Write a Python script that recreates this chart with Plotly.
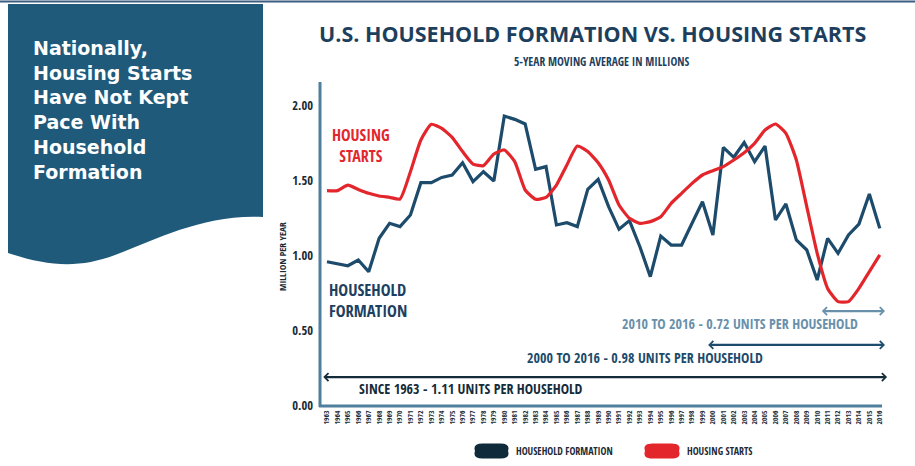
import plotly.graph_objects as go

years = list(range(1963, 2017))
year_labels = [str(y) for y in years]

household_formation = [
    0.962, 0.947, 0.935, 0.973, 0.895, 1.118, 1.218, 1.196, 1.273, 1.489,
    1.489, 1.524, 1.540, 1.622, 1.496, 1.562, 1.500, 1.933, 1.911, 1.880,
    1.578, 1.596, 1.207, 1.222, 1.196, 1.444, 1.511, 1.329, 1.178, 1.236,
    1.062, 0.862, 1.133, 1.073, 1.073, 1.218, 1.362, 1.140, 1.724, 1.658,
    1.756, 1.629, 1.733, 1.240, 1.347, 1.107, 1.040, 0.840, 1.118, 1.018,
    1.140, 1.213, 1.413, 1.184,
]
housing_starts = [
    1.436, 1.436, 1.473, 1.444, 1.418, 1.400, 1.391, 1.380, 1.562, 1.773,
    1.878, 1.851, 1.791, 1.696, 1.613, 1.602, 1.680, 1.707, 1.629, 1.440,
    1.378, 1.391, 1.473, 1.607, 1.733, 1.696, 1.622, 1.507, 1.340, 1.251,
    1.218, 1.229, 1.262, 1.351, 1.418, 1.484, 1.540, 1.569, 1.596, 1.640,
    1.689, 1.751, 1.840, 1.880, 1.818, 1.640, 1.329, 1.018, 0.784, 0.696,
    0.696, 0.784, 0.896, 1.007,
]
y_ticks = [0.0, 0.5, 1.0, 1.5, 2.0]

# ratio bands: (label, start year, end year)
bands = [
    ("2010 TO 2016 - 0.72 UNITS PER HOUSEHOLD", 2010.3, 2016.5),
    ("2000 TO 2016 - 0.98 UNITS PER HOUSEHOLD", 1999.4, 2016.5),
    ("SINCE 1963 - 1.11 UNITS PER HOUSEHOLD", 1962.5, 2016.7),
]

W, H = 915, 466
L, R, T, B = 320, 890, 82, 406
NARROW = "Open Sans Condensed, Roboto Condensed, DejaVu Sans Condensed, sans-serif"
BLUE = "#1d4b6b"
RED = "#e3262b"
DARK = "#1a2a36"


def px(x):
    return (x - L) / (R - L)


def py(y):
    return (B - y) / (B - T)


def note(x, y, text, size, color, family=NARROW, xanchor="center", yanchor="middle",
         align="center", **kw):
    return dict(xref="paper", yref="paper", x=px(x), y=py(y), text=text, showarrow=False,
                xanchor=xanchor, yanchor=yanchor, align=align,
                font=dict(family=family, size=size, color=color, weight="bold"), **kw)


fig = go.Figure()
fig.add_trace(go.Scatter(x=years, y=household_formation, mode="lines",
                         name="HOUSEHOLD FORMATION",
                         line=dict(color=BLUE, width=3.2)))
fig.add_trace(go.Scatter(x=years, y=housing_starts, mode="lines",
                         name="HOUSING STARTS",
                         line=dict(color=RED, width=3.2, shape="spline", smoothing=0.5)))

shapes = []
annotations = []

# Left panel with wavy bottom
path = "M %f,%f L %f,%f L %f,%f " % (px(8), py(4), px(263), py(4), px(263), py(217))
path += "C %f,%f %f,%f %f,%f " % (px(205), py(214), px(160), py(238), px(115), py(255))
path += "C %f,%f %f,%f %f,%f Z" % (px(80), py(268), px(50), py(267), px(8), py(253))
shapes.append(dict(type="path", xref="paper", yref="paper", path=path,
                   fillcolor="#1f5a7b", line=dict(width=0), layer="below"))
# top border line
shapes.append(dict(type="line", xref="paper", yref="paper", x0=px(0), x1=px(915),
                   y0=py(1.5), y1=py(1.5), line=dict(color="#3b5d80", width=2)))

annotations.append(note(31, 35, "Nationally,<br>Housing Starts<br>Have Not Kept<br>Pace With<br>Household<br>Formation",
                        19, "white", family="DejaVu Sans, Liberation Sans, sans-serif",
                        xanchor="left", yanchor="top", align="left"))

# axis lines
shapes.append(dict(type="line", xref="paper", yref="paper", x0=px(320), x1=px(320),
                   y0=py(82), y1=py(407), line=dict(color="#4f7f9c", width=3)))
shapes.append(dict(type="line", xref="paper", yref="paper", x0=px(319), x1=px(882),
                   y0=py(406), y1=py(406), line=dict(color="#4f7f9c", width=3)))

# Title & subtitle
annotations.append(note(592, 33, "U.S. HOUSEHOLD FORMATION VS. HOUSING STARTS", 21.5,
                        "#1d3f5e", family="Open Sans, Lato, sans-serif"))
annotations.append(note(601, 62, "5-YEAR MOVING AVERAGE IN MILLIONS", 11.5, "#1d3f5e"))

# Y title
annotations.append(note(282, 257, "MILLION PER YEAR", 9.5, DARK, textangle=-90))

# series labels
annotations.append(note(361, 145, "HOUSING<br>STARTS", 16, RED))
annotations.append(note(327, 300, "HOUSEHOLD<br>FORMATION", 16.5, "#1d4060",
                        xanchor="left", align="left"))

# band arrows and labels
band_style = [
    dict(color="#6890ab", y=0.633, ty=323, tx=740),
    dict(color="#1d4b6b", y=0.407, ty=357, tx=645),
    dict(color="#142b3a", y=0.193, ty=388, tx=471),
]
for (label, x0, x1), st in zip(bands, band_style):
    annotations.append(dict(x=x1, y=st["y"], ax=x0, ay=st["y"], xref="x", yref="y",
                            axref="x", ayref="y", text="", showarrow=True,
                            arrowside="end+start", arrowhead=4, arrowsize=0.7,
                            arrowwidth=2.2, arrowcolor=st["color"]))
    annotations.append(note(st["tx"], st["ty"], label, 14, st["color"]))


# legend pills
def pill(x0, x1, yc, h, color):
    r = h / 2
    p = "M %f,%f L %f,%f " % (px(x0 + r), py(yc - r), px(x1 - r), py(yc - r))
    p += "Q %f,%f %f,%f " % (px(x1 + r * 0.35), py(yc - r), px(x1), py(yc))
    p += "Q %f,%f %f,%f " % (px(x1 + r * 0.35), py(yc + r), px(x1 - r), py(yc + r))
    p += "L %f,%f " % (px(x0 + r), py(yc + r))
    p += "Q %f,%f %f,%f " % (px(x0 - r * 0.35), py(yc + r), px(x0), py(yc))
    p += "Q %f,%f %f,%f Z" % (px(x0 - r * 0.35), py(yc - r), px(x0 + r), py(yc - r))
    return dict(type="path", xref="paper", yref="paper", path=p, fillcolor=color,
                line=dict(width=0))


shapes.append(pill(475, 508, 451, 15, "#0f2a3b"))
shapes.append(pill(645, 679, 451, 15, RED))
annotations.append(note(514, 451, "HOUSEHOLD FORMATION", 10, DARK, xanchor="left"))
annotations.append(note(685, 451, "HOUSING STARTS", 10, DARK, xanchor="left"))

fig.update_layout(
    width=W, height=H,
    margin=dict(l=L, r=W - R, t=T, b=H - B),
    paper_bgcolor="white", plot_bgcolor="white",
    showlegend=False,
    shapes=shapes, annotations=annotations,
    xaxis=dict(range=[1962.33, 2016.98], tickmode="array", tickvals=years,
               ticktext=year_labels, tickangle=-90, showgrid=False, zeroline=False,
               showline=False, ticks="", ticklabelstandoff=2,
               tickfont=dict(family=NARROW, size=7.5, color=DARK, weight="bold")),
    yaxis=dict(range=[0, 2.16], tickmode="array", tickvals=y_ticks,
               ticktext=["%.2f" % v for v in y_ticks], showgrid=False, zeroline=False,
               showline=False, ticks="", ticklabelstandoff=6,
               tickfont=dict(family=NARROW, size=12.5, color=DARK, weight="bold")),
)

fig.write_html("out.html", config={"displayModeBar": False},
               post_script="document.body.style.margin='0';")
